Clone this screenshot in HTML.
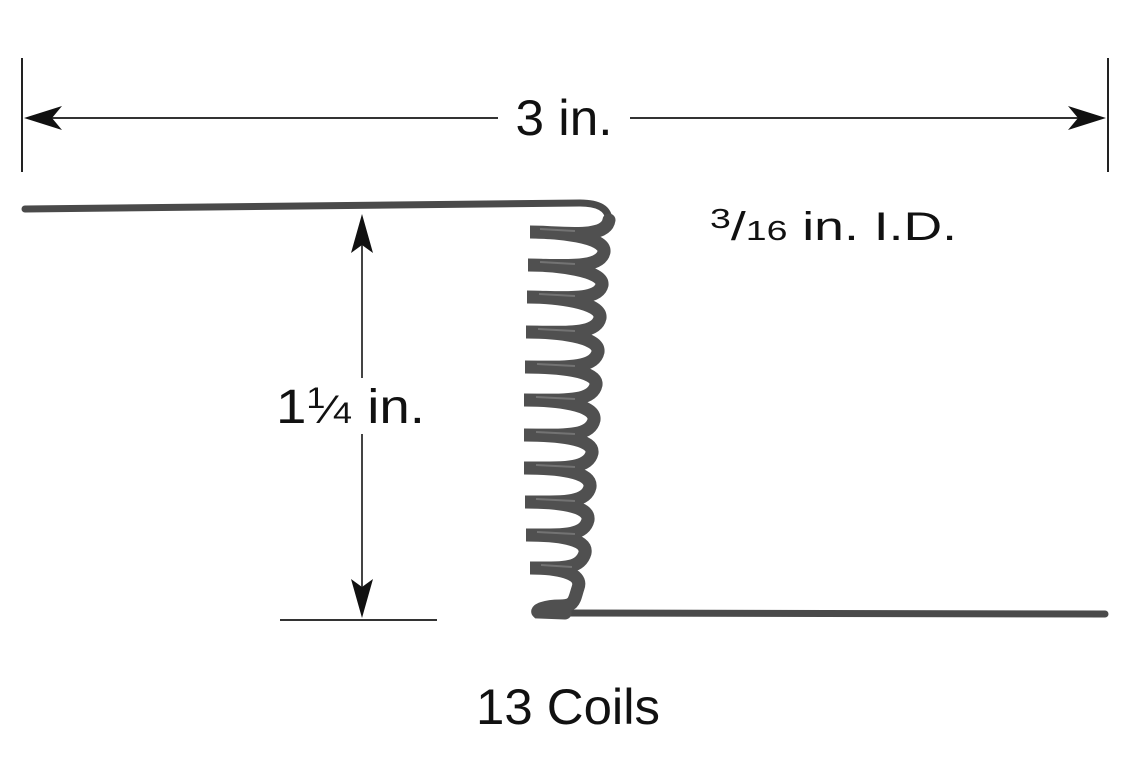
<!DOCTYPE html>
<html><head><meta charset="utf-8"><style>
html,body{margin:0;padding:0;background:#fff;}
svg{display:block;}
text{font-family:"Liberation Sans",sans-serif;fill:#111;}
</style></head><body>
<svg width="1132" height="768" viewBox="0 0 1132 768" xmlns="http://www.w3.org/2000/svg">
<line x1="22" y1="58" x2="22" y2="172" stroke="#222" stroke-width="2"/>
<line x1="1108" y1="58" x2="1108" y2="172" stroke="#222" stroke-width="2"/>
<line x1="30" y1="118" x2="498" y2="118" stroke="#333" stroke-width="2"/>
<line x1="630" y1="118" x2="1100" y2="118" stroke="#333" stroke-width="2"/>
<polygon points="24,118 62,106 52,118 62,130" fill="#111"/>
<polygon points="1106,118 1068,106 1078,118 1068,130" fill="#111"/>
<text x="564" y="135" font-size="50" text-anchor="middle" textLength="97" lengthAdjust="spacingAndGlyphs">3 in.</text>
<line x1="362" y1="240" x2="362" y2="378" stroke="#444" stroke-width="2"/>
<line x1="362" y1="434" x2="362" y2="595" stroke="#444" stroke-width="2"/>
<polygon points="362,214 351,253 362,245 373,253" fill="#111"/>
<polygon points="362,618 351,579 362,587 373,579" fill="#111"/>
<line x1="280" y1="620" x2="437" y2="620" stroke="#333" stroke-width="2"/>
<text x="276" y="423" font-size="48" textLength="149" lengthAdjust="spacingAndGlyphs">1<tspan font-size="30" dy="-15">1</tspan><tspan font-size="40" dy="15">⁄</tspan><tspan font-size="30">4</tspan> in.</text>
<text x="710" y="240" font-size="40" textLength="247" lengthAdjust="spacingAndGlyphs"><tspan font-size="28" dy="-12">3</tspan><tspan dy="12">/</tspan><tspan font-size="28">16</tspan> in. I.D.</text>
<text x="568" y="724" font-size="50" text-anchor="middle" textLength="184" lengthAdjust="spacingAndGlyphs">13 Coils</text>
<path d="M25,209 L580,203 Q608,203 609,220" fill="none" stroke="#4a4a4a" stroke-width="7" stroke-linecap="round"/>
<path d="M560,613 L1105,614" fill="none" stroke="#4a4a4a" stroke-width="7" stroke-linecap="round"/>
<g fill="none" stroke="#505050" stroke-width="13" stroke-linecap="round">
<path d="M609,220 C606,240 560,232 530,232 C555,232 606,236 604,252 C600,270 560,265 528,265 C555,265 604,270 602,285 C598,302 560,297 527,297 C555,297 602,302 600,318 C596,336 560,332 526,332 C555,332 600,336 598,352 C594,370 560,367 525,367 C555,367 598,370 596,385 C592,403 560,400 524,400 C555,400 596,404 594,420 C590,438 560,435 524,435 C555,435 594,438 592,453 C588,470 560,468 524,468 C555,468 592,471 590,487 C586,504 560,502 525,502 C555,502 590,505 588,520 C584,537 560,535 526,535 C555,535 588,538 585,553 C580,570 560,568 530,568 C555,568 584,572 578,588 C574,600 575,606 560,606 C545,606 536,610 538,612 L565,613"/>
</g>
<g fill="none" stroke="#8a8a8a" stroke-width="2" opacity="0.6">
<path d="M540,229 L575,231 M540,262 L575,264 M539,294 L575,296 M538,329 L575,331 M537,364 L575,366 M536,397 L575,399 M536,432 L575,434 M536,465 L575,467 M536,499 L575,501 M537,532 L575,534 M541,565 L572,567"/>
</g>
</svg>
</body></html>
